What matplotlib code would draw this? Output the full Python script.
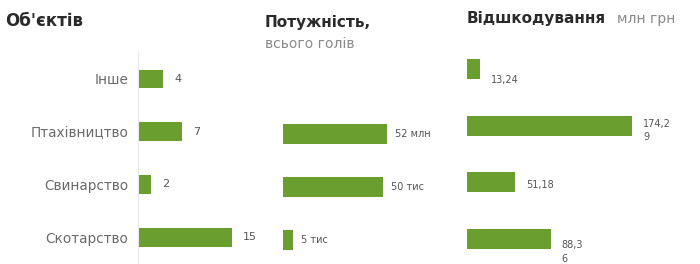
import matplotlib
matplotlib.use("Agg")
import matplotlib.pyplot as plt
import numpy as np

plt.rcParams['font.family'] = ['DejaVu Sans']

# data
categories = ['Інше', 'Птахівництво', 'Свинарство', 'Скотарство']
objects = [4, 7, 2, 15]
capacity = [np.nan, 52, 50, 5]
capacity_labels = ['', '52 млн', '50 тис', '5 тис']
compensation = [13.24, 174.29, 51.18, 88.36]
compensation_labels = ['13,24', '174,2\n9', '51,18', '88,3\n6']

GREEN = '#6a9e2e'
W, H = 700, 264

fig = plt.figure(figsize=(W / 100, H / 100), dpi=100)


def make_ax(left, width, top, bottom, first, step, xmax):
    # everything in pixels of the 700x264 canvas
    ax = fig.add_axes([left / W, 1 - bottom / H, width / W, (bottom - top) / H])
    ax.set_xlim(0, xmax)
    ax.set_ylim(3 + (bottom - (first + 3 * step)) / step, -(first - top) / step)
    for s in ax.spines.values():
        s.set_visible(False)
    ax.set_xticks([])
    ax.set_yticks([])
    return ax


# panel 1: number of objects
ax1 = make_ax(138, 120, 52, 264, 79, 52.7, 120 / 6.27)
ax1.barh(range(4), objects, height=0.36, color=GREEN)
ax1.spines['left'].set_visible(True)
ax1.spines['left'].set_color('#e8e8e8')
ax1.set_yticks(range(4))
ax1.set_yticklabels(categories, fontsize=9.8, color='#6b6b6b')
ax1.tick_params(axis='y', length=0, pad=7)
for i, v in enumerate(objects):
    ax1.annotate(str(v), (v, i), xytext=(8, 0), textcoords='offset points',
                 va='center', ha='left', fontsize=8, color='#555')

# panel 2: capacity
ax2 = make_ax(283, 150, 52, 264, 81, 53, 75)
ax2.barh(range(4), capacity, height=0.36, color=GREEN)
for i, (v, t) in enumerate(zip(capacity, capacity_labels)):
    if t:
        ax2.annotate(t, (v, i), xytext=(6, 0), textcoords='offset points',
                     va='center', ha='left', fontsize=7, color='#555')

# panel 3: compensation
ax3 = make_ax(467, 230, 40, 264, 69, 56.7, 230 / 0.947)
ax3.barh(range(4), compensation, height=0.35, color=GREEN)
label_dy = [-8, 5, -2, -1]
for i, (v, t) in enumerate(zip(compensation, compensation_labels)):
    ax3.annotate(t, (v, i), xytext=(8, label_dy[i]), textcoords='offset points',
                 va='top' if '\n' in t else 'center', ha='left', fontsize=7,
                 color='#555', linespacing=1.4)

# titles
fig.text(5 / W, 1 - 21 / H, "Об'єктів", fontsize=12, fontweight='bold',
         color='#2a2a2a', va='center')
fig.text(265 / W, 1 - 22 / H, "Потужність,", fontsize=11, fontweight='bold',
         color='#2a2a2a', va='center')
fig.text(265 / W, 1 - 44 / H, "всього голів", fontsize=10, color='#8a8a8a',
         va='center')
fig.text(467 / W, 1 - 19 / H, "Відшкодування", fontsize=11,
         fontweight='bold', color='#2a2a2a', va='center')
fig.text(617 / W, 1 - 19 / H, "млн грн", fontsize=10, color='#8a8a8a',
         va='center')

fig.savefig('out.png', dpi=100, facecolor='white')
